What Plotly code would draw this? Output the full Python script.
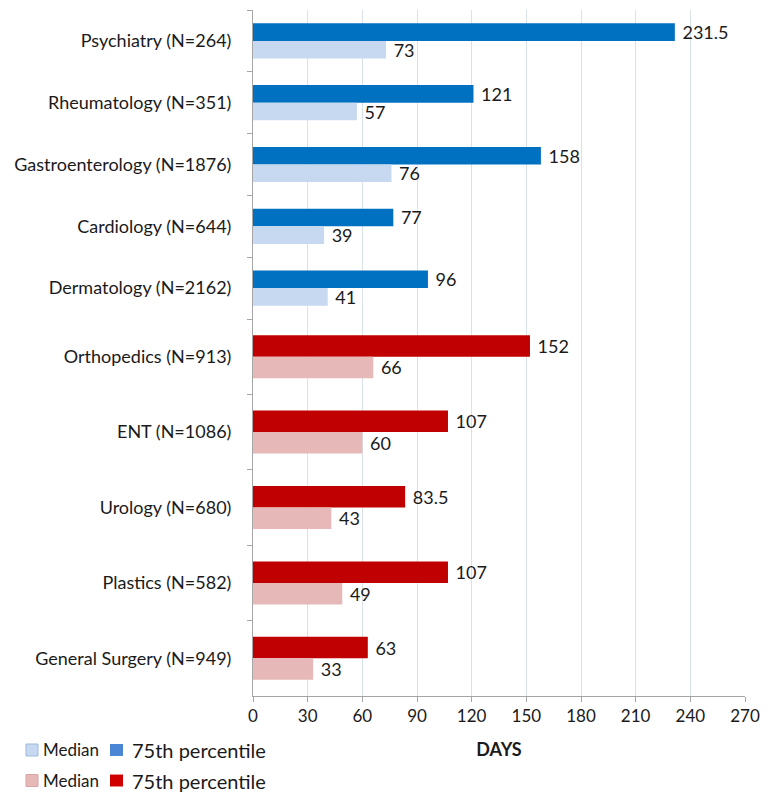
import plotly.graph_objects as go
from plotly.subplots import make_subplots

# Medical specialties (blue) and surgical specialties (red)
med_categories = ["Psychiatry (N=264)", "Rheumatology (N=351)", "Gastroenterology (N=1876)",
                  "Cardiology (N=644)", "Dermatology (N=2162)"]
med_p75 = [231.5, 121, 158, 77, 96]
med_median = [73, 57, 76, 39, 41]

surg_categories = ["Orthopedics (N=913)", "ENT (N=1086)", "Urology (N=680)",
                   "Plastics (N=582)", "General Surgery (N=949)"]
surg_p75 = [152, 107, 83.5, 107, 63]
surg_median = [66, 60, 43, 49, 33]

x_ticks = [0, 30, 60, 90, 120, 150, 180, 210, 240, 270]

dark = {"med": "#0070C0", "surg": "#C00000"}
light = {"med": "#C6D9F1", "surg": "#E6B9B8"}
legend_dark = {"med": "#4A86D4", "surg": "#D00000"}
legend_light_line = {"med": "#9DB9DA", "surg": "#D9A3A2"}

font_family = "Lato, Open Sans, sans-serif"


def fmt(v):
    return "\u00a0" + f"{v:g}"


fig = make_subplots(rows=2, cols=1, shared_xaxes=True, vertical_spacing=0,
                    row_heights=[309, 377])

groups = [("med", med_categories, med_p75, med_median, 1),
          ("surg", surg_categories, surg_p75, surg_median, 2)]
for key, cats, p75, med, row in groups:
    fig.add_trace(go.Bar(
        y=cats, x=p75, orientation="h", name="75th percentile",
        marker=dict(color=dark[key], line=dict(width=0)),
        text=[fmt(v) for v in p75], textposition="outside", constraintext="none",
        textfont=dict(size=18, color="#1a1a1a"), cliponaxis=False, showlegend=False),
        row=row, col=1)
    fig.add_trace(go.Bar(
        y=cats, x=med, orientation="h", name="Median",
        marker=dict(color=light[key], line=dict(width=0)),
        text=[fmt(v) for v in med], textposition="outside", constraintext="none",
        textfont=dict(size=18, color="#1a1a1a"), cliponaxis=False, showlegend=False),
        row=row, col=1)

fig.update_layout(
    width=771, height=792,
    margin=dict(l=253, r=26, t=10, b=96),
    paper_bgcolor="white", plot_bgcolor="white",
    barmode="group", bargap=0.43, bargroupgap=0.0,
    font=dict(family=font_family, size=15, color="#1a1a1a"),
)

fig.update_xaxes(range=[0, 270], tickvals=x_ticks, ticktext=[str(t) for t in x_ticks],
                 showgrid=True, gridcolor="#D9E2EC", gridwidth=1, zeroline=False)
fig.update_xaxes(showline=True, linecolor="#A6A6A6", linewidth=1,
                 ticks="outside", ticklen=5, tickcolor="#A6A6A6",
                 tickfont=dict(size=17),
                 title=dict(text="<b>DAYS</b>", font=dict(size=18), standoff=17),
                 row=2, col=1)
fig.update_xaxes(showline=False, ticks="", showticklabels=False, row=1, col=1)
fig.update_yaxes(autorange="reversed", showline=True, linecolor="#A6A6A6", linewidth=1,
                 ticks="outside", ticklen=5, tickcolor="#A6A6A6", tickson="boundaries",
                 tickfont=dict(size=18), showgrid=False, ticklabelstandoff=17)

# custom legend (two rows)
for key, yy in [("med", -0.0787), ("surg", -0.1232)]:
    fig.add_shape(type="rect", xref="paper", yref="paper",
                  x0=-0.4614, x1=-0.4370, y0=yy - 0.0087, y1=yy + 0.0087,
                  fillcolor=light[key], line=dict(color=legend_light_line[key], width=1))
    fig.add_annotation(xref="paper", yref="paper", x=-0.431, y=yy, xanchor="left", yanchor="middle",
                       text="Median", showarrow=False, font=dict(size=17))
    fig.add_shape(type="rect", xref="paper", yref="paper",
                  x0=-0.2907, x1=-0.2642, y0=yy - 0.0087, y1=yy + 0.0087,
                  fillcolor=legend_dark[key], line=dict(width=0))
    fig.add_annotation(xref="paper", yref="paper", x=-0.250, y=yy, xanchor="left", yanchor="middle",
                       text="75th percentile", showarrow=False, font=dict(size=20))

fig.write_html("out.html", config={"displayModeBar": False},
               post_script="document.body.style.margin='0px';")
